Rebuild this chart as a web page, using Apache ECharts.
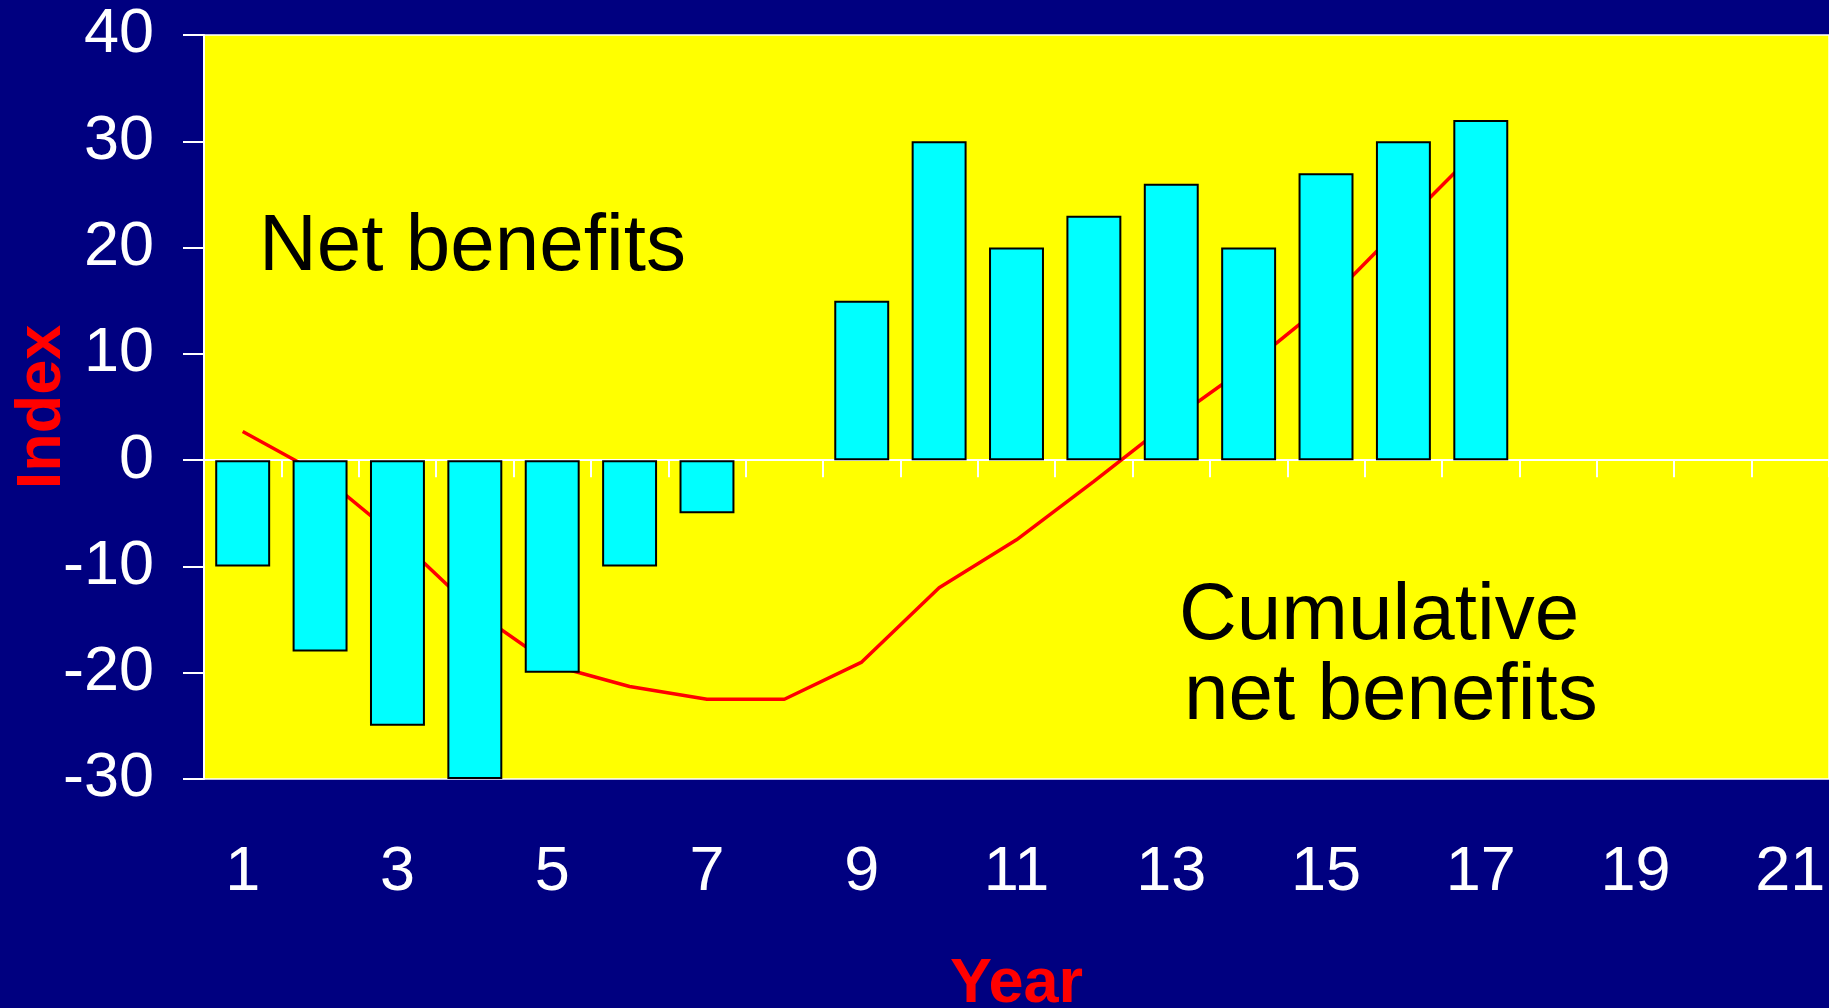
<!DOCTYPE html>
<html>
<head>
<meta charset="utf-8">
<script src="https://cdn.jsdelivr.net/npm/echarts@6/dist/echarts.min.js"></script>
<style>
  html, body { margin: 0; padding: 0; background: #000080; }
  #chart { width: 1829px; height: 1008px; }
</style>
</head>
<body>
<div id="chart"></div>
<script>
const years = ['1','2','3','4','5','6','7','8','9','10','11','12','13','14','15','16','17','18','19','20','21'];
const netBenefits = [-10, -18, -25, -30, -20, -10, -5, null, 15, 30, 20, 23, 26, 20, 27, 30, 32];
const cumulativeNetBenefits = [2.7, -1.3, -7.3, -14.2, -19.3, -21.3, -22.5, -22.5, -19.0, -12.0, -7.5, -2.0, 3.7, 8.9, 14.8, 22.2, 29.5];
const yTicks = { min: -30, max: 40, interval: 10 };

const FONT = "'Liberation Sans', Arial, Helvetica, sans-serif";
const chart = echarts.init(document.getElementById('chart'), null, { renderer: 'canvas' });

chart.setOption({
  backgroundColor: '#000080',
  animation: false,
  textStyle: { fontFamily: FONT },
  grid: {
    left: 204, right: 0, top: 35, bottom: 229,
    containLabel: false, outerBoundsMode: 'none',
    show: true, backgroundColor: '#FFFF00', borderColor: '#FFFFFF', borderWidth: 1.5
  },
  xAxis: [
    {
      type: 'category', data: years, position: 'bottom',
      axisLine: { show: true, onZero: true, lineStyle: { color: '#FFFFFF', width: 2 } },
      axisTick: { show: true, interval: 0, length: 17, lineStyle: { color: '#FFFFFF', width: 2 } },
      axisLabel: { show: false },
      splitLine: { show: false }
    },
    {
      type: 'category', data: years, position: 'bottom',
      axisLine: { show: false, onZero: false },
      axisTick: { show: false },
      axisLabel: { show: true, interval: 1, color: '#FFFFFF', fontSize: 63, fontFamily: FONT, margin: 62 },
      splitLine: { show: false },
      name: 'Year', nameLocation: 'middle', nameGap: 174,
      nameTextStyle: { color: '#FF0000', fontSize: 63, fontWeight: 'bold', fontFamily: FONT }
    }
  ],
  yAxis: {
    type: 'value', min: yTicks.min, max: yTicks.max, interval: yTicks.interval,
    axisLine: { show: true, lineStyle: { color: '#FFFFFF', width: 2 } },
    axisTick: { show: true, length: 21, lineStyle: { color: '#FFFFFF', width: 2 } },
    axisLabel: { color: '#FFFFFF', fontSize: 63, fontFamily: FONT, margin: 50 },
    splitLine: { show: false },
    name: 'Index', nameLocation: 'middle', nameGap: 130, nameMoveOverlap: false,
    nameTextStyle: { color: '#FF0000', fontSize: 63, fontWeight: 'bold', fontFamily: FONT }
  },
  series: [
    {
      type: 'line', name: 'Cumulative net benefits', data: cumulativeNetBenefits,
      xAxisIndex: 0, z: 1, symbol: 'none', smooth: false,
      lineStyle: { color: '#FF0000', width: 3.5 }
    },
    {
      type: 'bar', name: 'Net benefits', data: netBenefits,
      xAxisIndex: 0, z: 3, barWidth: '71%',
      itemStyle: { color: '#00FFFF', borderColor: '#000000', borderWidth: 2 }
    }
  ],
  graphic: [
    { type: 'text', left: 259, top: 208, z: 10,
      style: { text: 'Net benefits', font: '80px ' + FONT, fill: '#000000', verticalAlign: 'middle' } },
    { type: 'text', left: 1179, top: 577, z: 10,
      style: { text: 'Cumulative', font: '80px ' + FONT, fill: '#000000', verticalAlign: 'middle' } },
    { type: 'text', left: 1184, top: 657, z: 10,
      style: { text: 'net benefits', font: '80px ' + FONT, fill: '#000000', verticalAlign: 'middle' } }
  ]
});
</script>
</body>
</html>
